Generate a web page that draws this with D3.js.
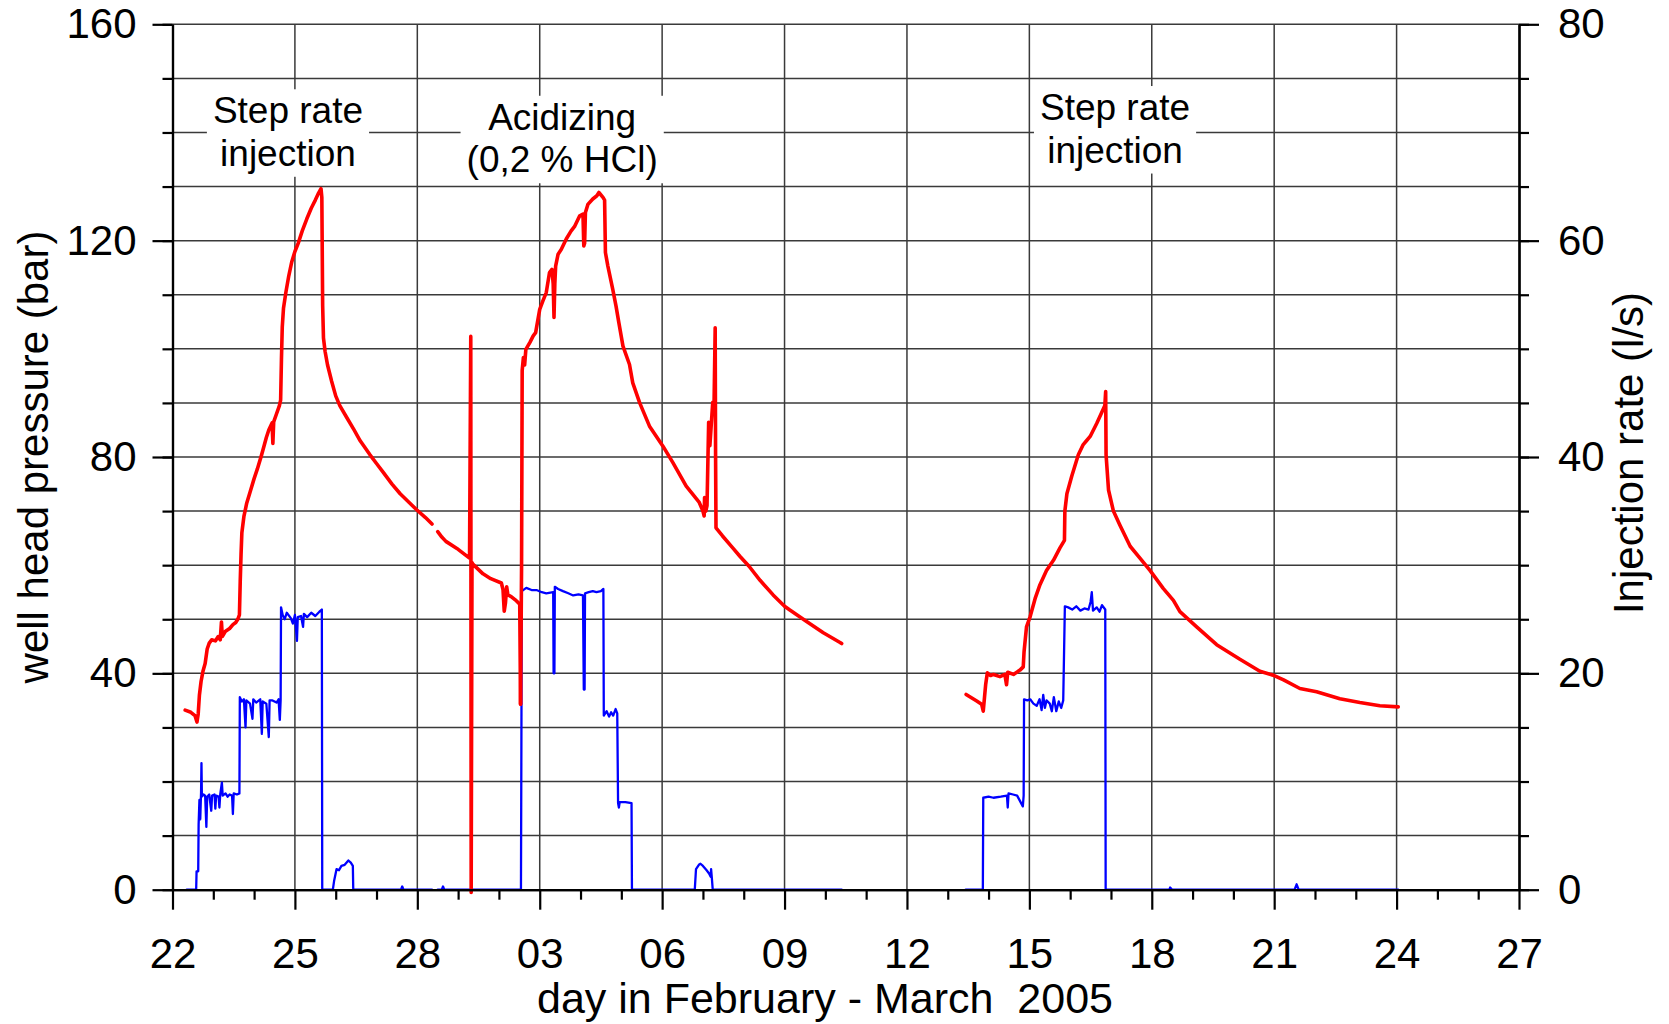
<!DOCTYPE html>
<html><head><meta charset="utf-8">
<script src="https://cdn.jsdelivr.net/npm/d3@7"></script>
<style>
html,body{margin:0;padding:0;background:#fff;}
svg{display:block;font-family:"Liberation Sans",Arial,Helvetica,sans-serif;}
</style></head><body>
<svg id="chart" width="1669" height="1024"></svg>
<script>
// ---------- DATA (day = days since 22 Feb 2005) ----------
const dayLabels = ["22","25","28","03","06","09","12","15","18","21","24","27"];
const pressureTicks = [0,40,80,120,160];
const rateTicks = [0,20,40,60,80];

// well head pressure (bar), first step-rate test + shut-in (gap = missing record)
const pressureStepRate1 = [
 [0.31,33.2],[0.45,32.8],[0.55,32.2],[0.6,31.0],[0.63,32.5],[0.66,36],[0.7,38.5],[0.75,40.5],[0.8,41.8],
 [0.85,44.5],[0.9,45.6],[0.96,46.2],[1.05,46.0],[1.12,46.8],[1.17,46.2],[1.2,49.5],[1.22,46.8],[1.3,47.8],
 [1.4,48.3],[1.48,49.0],[1.55,49.4],[1.6,50.0],[1.64,50.8],[1.66,57],[1.68,62],[1.7,66],[1.75,69],[1.82,71.5],
 [1.9,73.5],[2.0,76],[2.08,77.8],[2.18,80.3],[2.25,82.2],[2.3,83.6],[2.36,85],[2.44,86.3],[2.46,82.5],[2.48,86.5],
 [2.55,88],[2.62,89.5],[2.65,90.5],[2.67,98],[2.69,104],[2.72,107.5],[2.78,110.5],[2.85,113.5],[2.92,116],
 [3.0,118],[3.08,119.5],[3.18,121.8],[3.29,124],[3.4,126],[3.5,127.5],[3.58,128.8],[3.64,129.6],[3.66,128],
 [3.67,118],[3.68,108],[3.7,102],[3.74,99.5],[3.8,97],[3.9,94],[4.0,91.3],[4.1,89.5],[4.27,87.3],[4.45,85],
 [4.6,83],[4.84,80.4],[5.0,78.8],[5.17,77.1],[5.38,75],[5.58,73.2],[5.8,71.6],[5.99,70.2],[6.2,68.8],[6.36,67.6],
 [6.43,null],
 [6.5,66.2],[6.6,65.2],[6.7,64.4],[6.97,63.1],[7.04,62.7],[7.28,61.3],[7.31,102.3],[7.32,-0.5],[7.34,60.5],
 [7.36,60.2],[7.61,58.4],[7.8,57.5],[8.06,56.7],[8.1,55.5],[8.13,51.5],[8.16,53],[8.19,56],[8.22,54.5],
 [8.3,54.2],[8.4,53.6],[8.51,52.8],[8.53,34.3]
];
// acidizing (0,2 % HCl) and shut-in
const pressureAcidizing = [
 [8.53,34.3],[8.555,60],[8.57,96],[8.6,98.4],[8.63,97],[8.66,99.9],[8.76,101.2],[8.84,102.4],[8.9,103],
 [9.0,107.3],[9.08,108.9],[9.16,110.4],[9.24,114.1],[9.3,114.7],[9.33,112],[9.35,105.8],[9.37,112],[9.39,115.3],
 [9.45,117.5],[9.53,118.4],[9.65,120.3],[9.77,121.8],[9.86,122.7],[9.98,124.6],[10.06,124.9],[10.08,119.0],
 [10.1,119.5],[10.12,125.2],[10.18,126.7],[10.3,127.7],[10.4,128.3],[10.45,128.9],[10.55,128.0],[10.59,127.5],
 [10.61,117.8],[10.67,115.3],[10.79,111],[10.87,107.9],[10.94,104.8],[11.04,100.5],[11.2,97.1],[11.28,93.7],
 [11.45,90],[11.69,85.7],[12.02,82],[12.26,79],[12.59,74.6],[12.91,71.6],[13.0,70],[13.03,69.1],[13.04,72.5],
 [13.07,70],[13.1,71],[13.14,86.4],[13.17,82.1],[13.24,90.1],[13.27,88.5],[13.3,103.9],[13.31,80],[13.32,66.9],
 [13.48,65.4],[13.73,63.2],[13.91,61.6],[14.13,59.8],[14.4,57.2],[14.72,54.5],[15.0,52.4],[15.13,51.7],
 [15.54,49.6],[15.95,47.5],[16.36,45.7],[16.4,45.5]
];
// second step-rate test + shut-in
const pressureStepRate2 = [
 [19.45,36.1],[19.6,35.4],[19.71,34.9],[19.83,34.3],[19.87,33.0],[19.9,35.5],[19.93,38],[19.97,40.1],
 [20.05,39.6],[20.12,39.8],[20.28,39.4],[20.4,39.8],[20.44,37.9],[20.47,40.2],[20.61,39.8],[20.77,40.6],
 [20.85,41.2],[20.87,44],[20.93,48.6],[21.02,50.5],[21.14,53.8],[21.26,56.4],[21.42,59],[21.59,60.9],
 [21.75,63.2],[21.86,64.6],[21.87,70],[21.92,73.2],[22.04,76.5],[22.2,80.4],[22.32,82.3],[22.4,83],
 [22.49,83.8],[22.65,86.2],[22.77,88.2],[22.85,89.5],[22.87,92.1],[22.88,80.4],[22.94,73.9],[23.06,70],
 [23.22,67.4],[23.47,63.5],[23.71,61.3],[23.96,59],[24.28,55.7],[24.53,53.5],[24.69,51.4],[25.1,48.6],
 [25.59,45.3],[26.16,42.6],[26.65,40.4],[27.0,39.6],[27.23,38.8],[27.63,37.2],[28.04,36.6],[28.61,35.3],
 [29.1,34.6],[29.59,34.0],[30.04,33.8]
];

// injection rate (l/s)
const rateStepRate1 = [
 [0.35,0],[0.58,0],[0.59,1.7],[0.63,1.7],[0.64,6],[0.66,8.3],[0.68,6.5],[0.7,9],[0.71,11.7],[0.72,8.6],
 [0.76,8.8],[0.8,8.7],[0.83,5.8],[0.85,8.6],[0.9,8.8],[0.95,7.3],[0.97,8.7],[1.03,8.8],[1.05,7.5],[1.07,8.7],
 [1.13,8.6],[1.15,7.6],[1.17,8.8],[1.21,9.9],[1.23,8.7],[1.3,8.9],[1.35,8.6],[1.4,8.8],[1.46,8.7],[1.48,7.0],
 [1.5,8.9],[1.58,8.8],[1.64,8.9],[1.65,17.8],[1.7,17.4],[1.75,17.6],[1.79,15.0],[1.81,17.5],[1.9,17.2],
 [1.96,15.8],[1.98,17.6],[2.05,17.3],[2.15,17.6],[2.19,14.4],[2.21,17.4],[2.3,17.2],[2.36,14.1],[2.38,17.5],
 [2.45,17.5],[2.55,17.3],[2.6,17.6],[2.63,15.7],[2.65,17.5],[2.66,26.1],[2.7,25.4],[2.75,25.0],[2.8,25.6],
 [2.9,25.1],[2.95,24.6],[3.0,25.4],[3.05,23.0],[3.07,25.2],[3.15,25.3],[3.2,24.3],[3.22,25.5],[3.3,25.2],
 [3.4,25.6],[3.5,25.3],[3.6,25.7],[3.66,25.9],[3.67,0],[3.93,0],[3.96,0.8],[4.02,1.9],[4.08,1.8],[4.14,2.2],
 [4.22,2.3],[4.31,2.7],[4.37,2.5],[4.42,2.2],[4.43,0],[5.6,0],[5.63,0.3],[5.66,0],[6.36,0],
 [6.43,null],
 [6.5,0],[6.6,0],[6.63,0.3],[6.66,0],[8.54,0]
];
const rateAcidizing = [
 [8.54,0],[8.55,12.6],[8.56,27.6],[8.67,27.9],[8.8,27.7],[8.92,27.7],[9.05,27.5],[9.16,27.4],[9.33,27.5],
 [9.34,20],[9.36,20],[9.37,28.0],[9.45,27.8],[9.57,27.6],[9.7,27.4],[9.82,27.2],[9.95,27.3],[10.06,27.2],
 [10.08,18.5],[10.1,18.5],[10.11,27.4],[10.2,27.5],[10.3,27.6],[10.39,27.5],[10.5,27.6],[10.56,27.8],
 [10.57,16.1],[10.64,16.5],[10.7,16.0],[10.75,16.4],[10.8,16.1],[10.86,16.7],[10.9,16.3],[10.92,8.0],
 [10.94,7.6],[10.96,8.1],[11.1,8.1],[11.25,8.0],[11.26,0],[12.8,0],[12.83,1.9],[12.9,2.3],[12.94,2.4],
 [13.0,2.2],[13.09,1.8],[13.15,1.5],[13.19,1.2],[13.2,1.9],[13.22,1.0],[13.24,0],[16.4,0]
];
const rateStepRate2 = [
 [19.44,0],[19.86,0],[19.87,8.5],[20.0,8.6],[20.12,8.5],[20.3,8.6],[20.45,8.7],[20.47,7.6],[20.49,8.9],
 [20.6,8.8],[20.7,8.7],[20.84,7.7],[20.86,8.7],[20.87,17.6],[20.95,17.5],[21.02,17.6],[21.1,17.2],[21.18,17.0],
 [21.25,17.6],[21.3,16.6],[21.34,18.0],[21.38,16.8],[21.42,17.5],[21.5,17.2],[21.55,16.5],[21.6,17.8],
 [21.66,16.5],[21.72,17.4],[21.78,16.8],[21.83,17.5],[21.87,26.2],[21.95,26.1],[22.05,25.9],[22.15,26.2],
 [22.25,25.8],[22.35,26.0],[22.45,25.9],[22.5,26.6],[22.53,27.5],[22.56,25.8],[22.65,26.1],[22.72,25.7],
 [22.78,26.3],[22.86,25.9],[22.87,0],[24.43,0],[24.45,0.2],[24.5,0],[27.5,0],[27.55,0.5],[27.6,0],[30.04,0]
];

const annotations = [
 {lines:["Step rate","injection"], day:2.83, bar:141.7},
 {lines:["Acidizing","(0,2 % HCl)"], day:9.55, bar:140.5},
 {lines:["Step rate","injection"], day:23.1, bar:142.3}
];

// ---------- CHART ----------
const FONT = '"Liberation Sans",Arial,Helvetica,sans-serif';
const svg = d3.select("#chart");
const L = 172.5, R = 1519, T = 24.3, B = 889.7;
const x = d3.scaleLinear().domain([0,33]).range([L,R]);
const yP = d3.scaleLinear().domain([0,160]).range([B,T]);
const yQ = d3.scaleLinear().domain([0,80]).range([B,T]);

// grid
const grid = svg.append("g").attr("stroke","#3a3a3a").attr("stroke-width",1.5);
grid.selectAll("line.h").data(d3.range(10,161,10)).join("line")
  .attr("x1",L).attr("x2",R).attr("y1",d=>yP(d)).attr("y2",d=>yP(d));
grid.selectAll("line.v").data(d3.range(3,33,3)).join("line")
  .attr("y1",T).attr("y2",B).attr("x1",d=>x(d)).attr("x2",d=>x(d));

// data lines
const lineP = d3.line().defined(d=>d[1]!=null).x(d=>x(d[0])).y(d=>yP(d[1]));
const lineQ = d3.line().defined(d=>d[1]!=null).x(d=>x(d[0])).y(d=>yQ(d[1]));
const gl = svg.append("g").attr("fill","none").attr("stroke-linejoin","round").attr("stroke-linecap","round");
[rateStepRate1, rateAcidizing, rateStepRate2].forEach(s=>{
  gl.append("path").datum(s).attr("d",lineQ).attr("stroke","#0000ff").attr("stroke-width",2.3);
});
[pressureStepRate1, pressureAcidizing, pressureStepRate2].forEach(s=>{
  gl.append("path").datum(s).attr("d",lineP).attr("stroke","#ff0000").attr("stroke-width",3.6);
});

// annotations with white background
annotations.forEach(a=>{
  const g = svg.append("g");
  const t = g.append("text").attr("font-family",FONT).attr("font-size",37).attr("text-anchor","middle")
    .attr("x",x(a.day)).attr("y",yP(a.bar)).attr("fill","#000");
  a.lines.forEach((ln,i)=>{
    t.append("tspan").attr("x",x(a.day)).attr("dy",i===0?0:42.5).text(ln);
  });
  const bb = t.node().getBBox();
  g.insert("rect","text").attr("x",bb.x-6).attr("y",bb.y-1).attr("width",bb.width+12).attr("height",bb.height+4).attr("fill","#fff");
});

// axes
function styleAxis(g){
  g.attr("font-family",FONT).attr("font-size",42);
  g.selectAll(".domain").attr("stroke","#000").attr("stroke-width",2.2);
  g.selectAll(".tick line").attr("stroke","#000").attr("stroke-width",2.2);
  g.selectAll(".tick text").attr("fill","#000");
}
svg.append("g").attr("transform",`translate(0,${B})`)
  .call(d3.axisBottom(x).tickValues(d3.range(0,34,1).filter(d=>d%3)).tickSize(10).tickSizeOuter(0).tickFormat(""))
  .call(styleAxis);
svg.append("g").attr("transform",`translate(0,${B})`)
  .call(d3.axisBottom(x).tickValues(d3.range(0,34,3)).tickSize(20).tickSizeOuter(0).tickPadding(28).tickFormat((d,i)=>dayLabels[i]))
  .call(styleAxis);
svg.append("g").attr("transform",`translate(${L},0)`)
  .call(d3.axisLeft(yP).tickValues(d3.range(0,161,10)).tickSize(10).tickSizeOuter(0).tickFormat(""))
  .call(styleAxis);
svg.append("g").attr("transform",`translate(${L},0)`)
  .call(d3.axisLeft(yP).tickValues(pressureTicks).tickSize(20).tickSizeOuter(0).tickPadding(16))
  .call(styleAxis);
svg.append("g").attr("transform",`translate(${R},0)`)
  .call(d3.axisRight(yQ).tickValues(d3.range(0,81,5)).tickSize(10).tickSizeOuter(0).tickFormat(""))
  .call(styleAxis);
svg.append("g").attr("transform",`translate(${R},0)`)
  .call(d3.axisRight(yQ).tickValues(rateTicks).tickSize(20).tickSizeOuter(0).tickPadding(19))
  .call(styleAxis);

// titles
svg.append("text").attr("font-family",FONT).attr("font-size",43).attr("text-anchor","middle")
  .attr("x",825).attr("y",1013).attr("xml:space","preserve").style("white-space","pre")
  .text("day in February - March  2005");
svg.append("text").attr("font-family",FONT).attr("font-size",42).attr("text-anchor","middle")
  .attr("transform","translate(48,457) rotate(-90)").text("well head pressure (bar)");
svg.append("text").attr("font-family",FONT).attr("font-size",42).attr("text-anchor","middle")
  .attr("transform","translate(1643,453) rotate(-90)").text("Injection rate (l/s)");
</script>
</body></html>
